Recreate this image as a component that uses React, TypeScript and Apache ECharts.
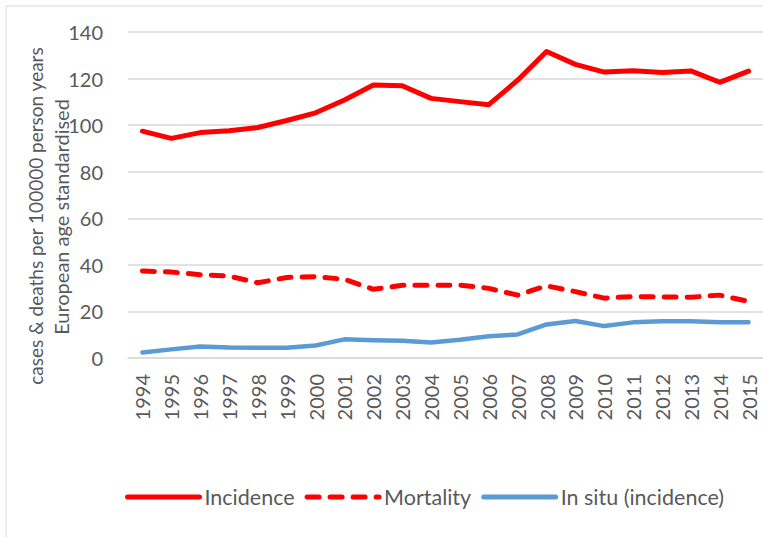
import React, { useEffect, useRef } from "react";
import * as echarts from "echarts";

const years = ["1994","1995","1996","1997","1998","1999","2000","2001","2002","2003","2004","2005","2006","2007","2008","2009","2010","2011","2012","2013","2014","2015"];
const incidence = [97.4, 94.3, 96.8, 97.6, 99.0, 102.0, 105.3, 110.8, 117.2, 116.9, 111.5, 110.1, 108.8, 119.3, 131.6, 126.1, 122.8, 123.4, 122.6, 123.3, 118.4, 123.2];
const mortality = [37.4, 36.9, 35.8, 35.2, 32.3, 34.6, 34.9, 33.8, 29.5, 31.2, 31.2, 31.3, 29.9, 27.0, 31.0, 28.5, 25.7, 26.4, 26.2, 26.1, 27.0, 24.3];
const inSitu = [2.4, 3.7, 4.9, 4.5, 4.4, 4.4, 5.4, 8.0, 7.6, 7.4, 6.7, 7.8, 9.3, 10.1, 14.4, 15.9, 13.7, 15.3, 15.8, 15.8, 15.4, 15.4];
const seriesNames = ["Incidence", "Mortality", "In situ (incidence)"];
const yTitle1 = "cases & deaths per 100000 person years";
const yTitle2 = "European age standardised";

const FONT = "Lato";
const TXT = "#595959";

export default function App() {
  const ref = useRef<HTMLDivElement>(null);
  useEffect(() => {
    document.body.style.margin = "0";
    const chart = echarts.init(ref.current!, null, { renderer: "svg" });
    chart.setOption({
      animation: false,
      textStyle: { fontFamily: FONT },
      grid: { left: 128, top: 32, bottom: 179, width: 647, containLabel: false },
      legend: {
        left: 120,
        top: 481,
        itemWidth: 72,
        itemHeight: 14,
        itemGap: 10,
        itemStyle: { opacity: 0 },
        lineStyle: { width: 5, cap: "round" },
        textStyle: { fontFamily: FONT, fontSize: 21.5, color: TXT },
        data: seriesNames,
      },
      xAxis: {
        type: "category",
        data: years,
        boundaryGap: true,
        axisLine: { lineStyle: { color: "#D9D9D9", width: 1.5 } },
        axisTick: { show: false },
        axisLabel: { rotate: 90, fontSize: 20, color: TXT, margin: 16, fontFamily: FONT, interval: 0 },
      },
      yAxis: {
        type: "value",
        min: 0,
        max: 140,
        interval: 20,
        axisLine: { show: false },
        axisTick: { show: false },
        axisLabel: { fontSize: 20, color: TXT, margin: 25, fontFamily: FONT },
        splitLine: { lineStyle: { color: "#D9D9D9", width: 1.5 } },
      },
      series: [
        {
          name: seriesNames[0], type: "line", data: incidence, symbol: "none",
          lineStyle: { color: "#FF0000", width: 5, cap: "round", join: "round" },
          itemStyle: { color: "#FF0000" },
        },
        {
          name: seriesNames[1], type: "line", data: mortality, symbol: "none",
          lineStyle: { color: "#FF0000", width: 5, type: [12, 11], cap: "round", join: "round" },
          itemStyle: { color: "#FF0000" },
        },
        {
          name: seriesNames[2], type: "line", data: inSitu, symbol: "none",
          lineStyle: { color: "#5B9BD5", width: 4.5, cap: "round", join: "round" },
          itemStyle: { color: "#5B9BD5" },
        },
      ],
      graphic: [
        {
          type: "rect", x: 6, y: 6, silent: true,
          shape: { width: 800, height: 600 },
          style: { fill: "none", stroke: "#D9D9D9", lineWidth: 1 },
        },
        {
          type: "text", x: 35, y: 216, rotation: Math.PI / 2,
          style: { text: yTitle1, fontSize: 19, fontFamily: FONT, fill: TXT, align: "center", verticalAlign: "middle" },
        },
        {
          type: "text", x: 61, y: 217, rotation: Math.PI / 2,
          style: { text: yTitle2, fontSize: 20, fontFamily: FONT, fill: TXT, align: "center", verticalAlign: "middle" },
        },
      ],
    });
    return () => chart.dispose();
  }, []);
  return <div ref={ref} style={{ width: 763, height: 537 }} />;
}
